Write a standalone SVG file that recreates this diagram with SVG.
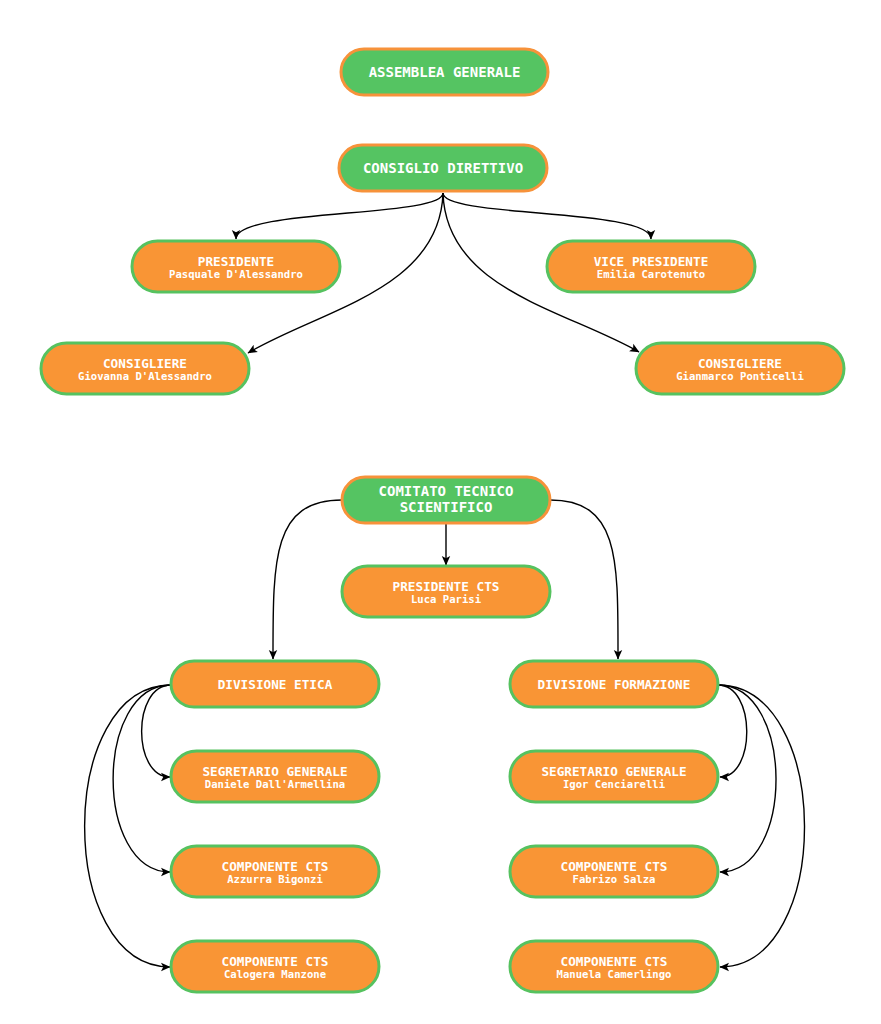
<svg xmlns="http://www.w3.org/2000/svg" width="881" height="1024" viewBox="0 0 881 1024">
<style>
.g rect{fill:#55c462;stroke:#f7923a;stroke-width:3}
.o rect{fill:#f99535;stroke:#56c25f;stroke-width:3}
text{font-family:"DejaVu Sans Mono","Liberation Mono",monospace;font-weight:bold;fill:#ffffff;text-anchor:middle}
.t1{font-size:14px}
.t2{font-size:12.7px}
.t3{font-size:10.6px}
#connectors path{fill:none;stroke:#000;stroke-width:1.4;marker-end:url(#ah)}
</style>
<defs>
<marker id="ah" markerUnits="userSpaceOnUse" markerWidth="10" markerHeight="10" viewBox="0 0 10 10" refX="9" refY="5" orient="auto">
<path d="M0,0.8 L9.5,5 L0,9.2 L2.2,5 Z" fill="#000"/>
</marker>
</defs>
<rect width="881" height="1024" fill="#ffffff"/>
<g id="connectors">
<path d="M443,193 C443,218 236,208 236,239"/>
<path d="M443,193 C443,218 651,208 651,239"/>
<path d="M443,193 C440,290 320,310 248,353"/>
<path d="M443,193 C446,290 566,310 639,352"/>
<path d="M342,500 C272,500 273,560 273,659"/>
<path d="M550,500 C620,500 618,560 618,659"/>
<path d="M446,523 L446,565"/>
<path d="M171,685 C132,685 132,777 170,777"/>
<path d="M171,685 C94,685 94,872 170,872"/>
<path d="M171,685 C56,685 56,967 170,967"/>
<path d="M718,685 C756,685 756,777 720,777"/>
<path d="M718,685 C795,685 795,872 720,872"/>
<path d="M718,685 C833,685 833,967 720,967"/>
</g>
<g id="assemblea" class="g"><rect x="341" y="49" width="207" height="46" rx="23"/><text class="t1" x="444.5" y="77">ASSEMBLEA GENERALE</text></g>
<g id="consiglio" class="g"><rect x="339" y="145" width="208" height="46" rx="23"/><text class="t1" x="443" y="173">CONSIGLIO DIRETTIVO</text></g>
<g id="presidente" class="o"><rect x="132" y="241" width="208" height="51" rx="25.5"/><text class="t2" x="236" y="266">PRESIDENTE</text><text class="t3" x="236" y="277.5">Pasquale D'Alessandro</text></g>
<g id="vicepresidente" class="o"><rect x="547" y="241" width="208" height="51" rx="25.5"/><text class="t2" x="651" y="266">VICE PRESIDENTE</text><text class="t3" x="651" y="277.5">Emilia Carotenuto</text></g>
<g id="consigliere1" class="o"><rect x="41" y="343" width="208" height="51" rx="25.5"/><text class="t2" x="145" y="368">CONSIGLIERE</text><text class="t3" x="145" y="379.5">Giovanna D'Alessandro</text></g>
<g id="consigliere2" class="o"><rect x="636" y="343" width="208" height="51" rx="25.5"/><text class="t2" x="740" y="368">CONSIGLIERE</text><text class="t3" x="740" y="379.5">Gianmarco Ponticelli</text></g>
<g id="cts" class="g"><rect x="342" y="477" width="208" height="46" rx="23"/><text class="t1" x="446" y="496">COMITATO TECNICO</text><text class="t1" x="446" y="512">SCIENTIFICO</text></g>
<g id="presidentects" class="o"><rect x="342" y="566" width="208" height="51" rx="25.5"/><text class="t2" x="446" y="591">PRESIDENTE CTS</text><text class="t3" x="446" y="602.5">Luca Parisi</text></g>
<g id="etica" class="o"><rect x="171" y="661" width="208" height="46" rx="23"/><text class="t2" x="275" y="688.5">DIVISIONE ETICA</text></g>
<g id="formazione" class="o"><rect x="510" y="661" width="208" height="46" rx="23"/><text class="t2" x="614" y="688.5">DIVISIONE FORMAZIONE</text></g>
<g id="segretario1" class="o"><rect x="171" y="751" width="208" height="51" rx="25.5"/><text class="t2" x="275" y="776">SEGRETARIO GENERALE</text><text class="t3" x="275" y="787.5">Daniele Dall'Armellina</text></g>
<g id="componente1" class="o"><rect x="171" y="846" width="208" height="51" rx="25.5"/><text class="t2" x="275" y="871">COMPONENTE CTS</text><text class="t3" x="275" y="882.5">Azzurra Bigonzi</text></g>
<g id="componente2" class="o"><rect x="171" y="941" width="208" height="51" rx="25.5"/><text class="t2" x="275" y="966">COMPONENTE CTS</text><text class="t3" x="275" y="977.5">Calogera Manzone</text></g>
<g id="segretario2" class="o"><rect x="510" y="751" width="208" height="51" rx="25.5"/><text class="t2" x="614" y="776">SEGRETARIO GENERALE</text><text class="t3" x="614" y="787.5">Igor Cenciarelli</text></g>
<g id="componente3" class="o"><rect x="510" y="846" width="208" height="51" rx="25.5"/><text class="t2" x="614" y="871">COMPONENTE CTS</text><text class="t3" x="614" y="882.5">Fabrizo Salza</text></g>
<g id="componente4" class="o"><rect x="510" y="941" width="208" height="51" rx="25.5"/><text class="t2" x="614" y="966">COMPONENTE CTS</text><text class="t3" x="614" y="977.5">Manuela Camerlingo</text></g>
</svg>
